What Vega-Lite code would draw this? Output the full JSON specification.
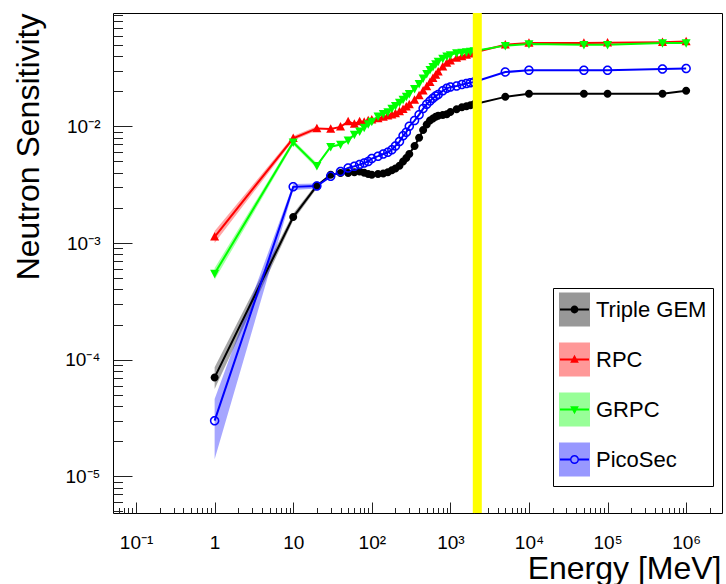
{
  "$schema": "https://vega.github.io/schema/vega-lite/v6.json",
  "autosize": {"type": "none"},
  "width": 609,
  "height": 500,
  "padding": {"left": 113, "top": 13, "right": 4, "bottom": 71},
  "background": "white",
  "config": {
    "view": {"stroke": "#000000", "strokeWidth": 1},
    "font": "Liberation Sans",
    "axis": {
      "labelFont": "Liberation Sans", "titleFont": "Liberation Sans", "titleFontWeight": "normal",
      "labelFontSize": 19, "titleFontSize": 32, "labelColor": "#000000",
      "titleColor": "#000000", "domain": false, "ticks": false, "grid": true,
      "gridColor": "#222222", "gridOpacity": 1, "gridWidth": 1,
      "labelOverlap": false, "labelFlush": false
    },
    "axisY": {
      "title": "Neutron Sensitivity",
      "values": [0.000005,0.000006,0.000007,0.000008,0.000009,0.00001,0.00002,0.00003,0.00004,0.00005,0.00006,0.00007,0.00008,0.00009,0.0001,0.0002,0.0003,0.0004,0.0005,0.0006,0.0007,0.0008,0.0009,0.001,0.002,0.003,0.004,0.005,0.006,0.007,0.008,0.009,0.01,0.02,0.03,0.04,0.05,0.06,0.07,0.08,0.09],
      "labelAlign": "right",
      "labelBaseline": "middle",
      "labelPadding": 13,
      "titleAngle": 270,
      "titleAlign": "right",
      "titleBaseline": "alphabetic",
      "titleX": -75,
      "titleY": 0
    }
  },
  "resolve": {"scale": {"shape": "independent", "color": "independent"}},
  "datasets": {
    "curves": [
      {"detector":"Triple GEM","energy":1,"sensitivity":7.05e-5},
      {"detector":"Triple GEM","energy":10,"sensitivity":1.67e-3},
      {"detector":"Triple GEM","energy":20,"sensitivity":3.1e-3},
      {"detector":"Triple GEM","energy":30,"sensitivity":3.85e-3},
      {"detector":"Triple GEM","energy":40,"sensitivity":3.98e-3},
      {"detector":"Triple GEM","energy":50,"sensitivity":3.98e-3},
      {"detector":"Triple GEM","energy":60,"sensitivity":4.05e-3},
      {"detector":"Triple GEM","energy":70,"sensitivity":4.11e-3},
      {"detector":"Triple GEM","energy":80,"sensitivity":4.0e-3},
      {"detector":"Triple GEM","energy":90,"sensitivity":3.9e-3},
      {"detector":"Triple GEM","energy":100,"sensitivity":3.85e-3},
      {"detector":"Triple GEM","energy":120,"sensitivity":3.9e-3},
      {"detector":"Triple GEM","energy":140,"sensitivity":3.95e-3},
      {"detector":"Triple GEM","energy":160,"sensitivity":4.05e-3},
      {"detector":"Triple GEM","energy":180,"sensitivity":4.2e-3},
      {"detector":"Triple GEM","energy":200,"sensitivity":4.35e-3},
      {"detector":"Triple GEM","energy":225,"sensitivity":4.6e-3},
      {"detector":"Triple GEM","energy":250,"sensitivity":5.0e-3},
      {"detector":"Triple GEM","energy":275,"sensitivity":5.36e-3},
      {"detector":"Triple GEM","energy":300,"sensitivity":5.8e-3},
      {"detector":"Triple GEM","energy":350,"sensitivity":6.8e-3},
      {"detector":"Triple GEM","energy":400,"sensitivity":8.0e-3},
      {"detector":"Triple GEM","energy":450,"sensitivity":9.3e-3},
      {"detector":"Triple GEM","energy":500,"sensitivity":1.04e-2},
      {"detector":"Triple GEM","energy":550,"sensitivity":1.12e-2},
      {"detector":"Triple GEM","energy":600,"sensitivity":1.17e-2},
      {"detector":"Triple GEM","energy":650,"sensitivity":1.21e-2},
      {"detector":"Triple GEM","energy":700,"sensitivity":1.23e-2},
      {"detector":"Triple GEM","energy":800,"sensitivity":1.25e-2},
      {"detector":"Triple GEM","energy":900,"sensitivity":1.27e-2},
      {"detector":"Triple GEM","energy":1000,"sensitivity":1.33e-2},
      {"detector":"Triple GEM","energy":1200,"sensitivity":1.40e-2},
      {"detector":"Triple GEM","energy":1400,"sensitivity":1.46e-2},
      {"detector":"Triple GEM","energy":1600,"sensitivity":1.49e-2},
      {"detector":"Triple GEM","energy":1800,"sensitivity":1.52e-2},
      {"detector":"Triple GEM","energy":2000,"sensitivity":1.55e-2},
      {"detector":"Triple GEM","energy":5000,"sensitivity":1.79e-2},
      {"detector":"Triple GEM","energy":10000,"sensitivity":1.90e-2},
      {"detector":"Triple GEM","energy":50000,"sensitivity":1.90e-2},
      {"detector":"Triple GEM","energy":100000,"sensitivity":1.90e-2},
      {"detector":"Triple GEM","energy":500000,"sensitivity":1.90e-2},
      {"detector":"Triple GEM","energy":1000000,"sensitivity":2.02e-2},
      {"detector":"RPC","energy":1,"sensitivity":1.13e-3},
      {"detector":"RPC","energy":10,"sensitivity":7.9e-3},
      {"detector":"RPC","energy":20,"sensitivity":9.6e-3},
      {"detector":"RPC","energy":30,"sensitivity":9.5e-3},
      {"detector":"RPC","energy":40,"sensitivity":9.9e-3},
      {"detector":"RPC","energy":50,"sensitivity":1.10e-2},
      {"detector":"RPC","energy":60,"sensitivity":1.05e-2},
      {"detector":"RPC","energy":70,"sensitivity":1.10e-2},
      {"detector":"RPC","energy":80,"sensitivity":1.09e-2},
      {"detector":"RPC","energy":90,"sensitivity":1.12e-2},
      {"detector":"RPC","energy":100,"sensitivity":1.14e-2},
      {"detector":"RPC","energy":120,"sensitivity":1.17e-2},
      {"detector":"RPC","energy":140,"sensitivity":1.20e-2},
      {"detector":"RPC","energy":160,"sensitivity":1.23e-2},
      {"detector":"RPC","energy":180,"sensitivity":1.26e-2},
      {"detector":"RPC","energy":200,"sensitivity":1.29e-2},
      {"detector":"RPC","energy":225,"sensitivity":1.34e-2},
      {"detector":"RPC","energy":250,"sensitivity":1.40e-2},
      {"detector":"RPC","energy":275,"sensitivity":1.47e-2},
      {"detector":"RPC","energy":300,"sensitivity":1.54e-2},
      {"detector":"RPC","energy":350,"sensitivity":1.68e-2},
      {"detector":"RPC","energy":400,"sensitivity":1.84e-2},
      {"detector":"RPC","energy":450,"sensitivity":2.02e-2},
      {"detector":"RPC","energy":500,"sensitivity":2.20e-2},
      {"detector":"RPC","energy":550,"sensitivity":2.39e-2},
      {"detector":"RPC","energy":600,"sensitivity":2.58e-2},
      {"detector":"RPC","energy":650,"sensitivity":2.75e-2},
      {"detector":"RPC","energy":700,"sensitivity":2.94e-2},
      {"detector":"RPC","energy":800,"sensitivity":3.25e-2},
      {"detector":"RPC","energy":900,"sensitivity":3.50e-2},
      {"detector":"RPC","energy":1000,"sensitivity":3.65e-2},
      {"detector":"RPC","energy":1200,"sensitivity":3.85e-2},
      {"detector":"RPC","energy":1400,"sensitivity":3.98e-2},
      {"detector":"RPC","energy":1600,"sensitivity":4.10e-2},
      {"detector":"RPC","energy":1800,"sensitivity":4.20e-2},
      {"detector":"RPC","energy":2000,"sensitivity":4.30e-2},
      {"detector":"RPC","energy":5000,"sensitivity":5.01e-2},
      {"detector":"RPC","energy":10000,"sensitivity":5.19e-2},
      {"detector":"RPC","energy":50000,"sensitivity":5.19e-2},
      {"detector":"RPC","energy":100000,"sensitivity":5.20e-2},
      {"detector":"RPC","energy":500000,"sensitivity":5.27e-2},
      {"detector":"RPC","energy":1000000,"sensitivity":5.34e-2},
      {"detector":"GRPC","energy":1,"sensitivity":5.47e-4},
      {"detector":"GRPC","energy":10,"sensitivity":7.3e-3},
      {"detector":"GRPC","energy":20,"sensitivity":4.6e-3},
      {"detector":"GRPC","energy":30,"sensitivity":6.7e-3},
      {"detector":"GRPC","energy":40,"sensitivity":7.0e-3},
      {"detector":"GRPC","energy":50,"sensitivity":7.6e-3},
      {"detector":"GRPC","energy":60,"sensitivity":8.5e-3},
      {"detector":"GRPC","energy":70,"sensitivity":9.1e-3},
      {"detector":"GRPC","energy":80,"sensitivity":9.8e-3},
      {"detector":"GRPC","energy":90,"sensitivity":1.05e-2},
      {"detector":"GRPC","energy":100,"sensitivity":1.10e-2},
      {"detector":"GRPC","energy":120,"sensitivity":1.22e-2},
      {"detector":"GRPC","energy":140,"sensitivity":1.28e-2},
      {"detector":"GRPC","energy":160,"sensitivity":1.33e-2},
      {"detector":"GRPC","energy":180,"sensitivity":1.42e-2},
      {"detector":"GRPC","energy":200,"sensitivity":1.50e-2},
      {"detector":"GRPC","energy":225,"sensitivity":1.60e-2},
      {"detector":"GRPC","energy":250,"sensitivity":1.70e-2},
      {"detector":"GRPC","energy":275,"sensitivity":1.80e-2},
      {"detector":"GRPC","energy":300,"sensitivity":1.90e-2},
      {"detector":"GRPC","energy":350,"sensitivity":2.10e-2},
      {"detector":"GRPC","energy":400,"sensitivity":2.32e-2},
      {"detector":"GRPC","energy":450,"sensitivity":2.58e-2},
      {"detector":"GRPC","energy":500,"sensitivity":2.82e-2},
      {"detector":"GRPC","energy":550,"sensitivity":3.06e-2},
      {"detector":"GRPC","energy":600,"sensitivity":3.24e-2},
      {"detector":"GRPC","energy":650,"sensitivity":3.42e-2},
      {"detector":"GRPC","energy":700,"sensitivity":3.60e-2},
      {"detector":"GRPC","energy":800,"sensitivity":3.82e-2},
      {"detector":"GRPC","energy":900,"sensitivity":4.00e-2},
      {"detector":"GRPC","energy":1000,"sensitivity":4.10e-2},
      {"detector":"GRPC","energy":1200,"sensitivity":4.25e-2},
      {"detector":"GRPC","energy":1400,"sensitivity":4.30e-2},
      {"detector":"GRPC","energy":1600,"sensitivity":4.34e-2},
      {"detector":"GRPC","energy":1800,"sensitivity":4.38e-2},
      {"detector":"GRPC","energy":2000,"sensitivity":4.42e-2},
      {"detector":"GRPC","energy":5000,"sensitivity":4.92e-2},
      {"detector":"GRPC","energy":10000,"sensitivity":5.08e-2},
      {"detector":"GRPC","energy":50000,"sensitivity":5.00e-2},
      {"detector":"GRPC","energy":100000,"sensitivity":5.00e-2},
      {"detector":"GRPC","energy":500000,"sensitivity":5.19e-2},
      {"detector":"GRPC","energy":1000000,"sensitivity":5.19e-2},
      {"detector":"PicoSec","energy":1,"sensitivity":3.0e-5},
      {"detector":"PicoSec","energy":10,"sensitivity":3.03e-3},
      {"detector":"PicoSec","energy":20,"sensitivity":3.08e-3},
      {"detector":"PicoSec","energy":30,"sensitivity":3.73e-3},
      {"detector":"PicoSec","energy":40,"sensitivity":4.11e-3},
      {"detector":"PicoSec","energy":50,"sensitivity":4.4e-3},
      {"detector":"PicoSec","energy":60,"sensitivity":4.55e-3},
      {"detector":"PicoSec","energy":70,"sensitivity":4.7e-3},
      {"detector":"PicoSec","energy":80,"sensitivity":4.85e-3},
      {"detector":"PicoSec","energy":90,"sensitivity":5.0e-3},
      {"detector":"PicoSec","energy":100,"sensitivity":5.3e-3},
      {"detector":"PicoSec","energy":120,"sensitivity":5.55e-3},
      {"detector":"PicoSec","energy":140,"sensitivity":5.8e-3},
      {"detector":"PicoSec","energy":160,"sensitivity":6.0e-3},
      {"detector":"PicoSec","energy":180,"sensitivity":6.3e-3},
      {"detector":"PicoSec","energy":200,"sensitivity":6.8e-3},
      {"detector":"PicoSec","energy":225,"sensitivity":7.4e-3},
      {"detector":"PicoSec","energy":250,"sensitivity":8.3e-3},
      {"detector":"PicoSec","energy":275,"sensitivity":8.9e-3},
      {"detector":"PicoSec","energy":300,"sensitivity":1.0e-2},
      {"detector":"PicoSec","energy":350,"sensitivity":1.12e-2},
      {"detector":"PicoSec","energy":400,"sensitivity":1.26e-2},
      {"detector":"PicoSec","energy":450,"sensitivity":1.42e-2},
      {"detector":"PicoSec","energy":500,"sensitivity":1.55e-2},
      {"detector":"PicoSec","energy":550,"sensitivity":1.65e-2},
      {"detector":"PicoSec","energy":600,"sensitivity":1.74e-2},
      {"detector":"PicoSec","energy":650,"sensitivity":1.82e-2},
      {"detector":"PicoSec","energy":700,"sensitivity":1.88e-2},
      {"detector":"PicoSec","energy":800,"sensitivity":2.02e-2},
      {"detector":"PicoSec","energy":900,"sensitivity":2.12e-2},
      {"detector":"PicoSec","energy":1000,"sensitivity":2.17e-2},
      {"detector":"PicoSec","energy":1200,"sensitivity":2.22e-2},
      {"detector":"PicoSec","energy":1400,"sensitivity":2.28e-2},
      {"detector":"PicoSec","energy":1600,"sensitivity":2.33e-2},
      {"detector":"PicoSec","energy":1800,"sensitivity":2.37e-2},
      {"detector":"PicoSec","energy":2000,"sensitivity":2.40e-2},
      {"detector":"PicoSec","energy":5000,"sensitivity":2.92e-2},
      {"detector":"PicoSec","energy":10000,"sensitivity":3.02e-2},
      {"detector":"PicoSec","energy":50000,"sensitivity":3.02e-2},
      {"detector":"PicoSec","energy":100000,"sensitivity":3.02e-2},
      {"detector":"PicoSec","energy":500000,"sensitivity":3.10e-2},
      {"detector":"PicoSec","energy":1000000,"sensitivity":3.14e-2}
    ],
    "bands": [
      {"detector":"Triple GEM","energy":1,"lo":5.6e-5,"hi":8.6e-5},
      {"detector":"Triple GEM","energy":10,"lo":1.56e-3,"hi":1.79e-3},
      {"detector":"Triple GEM","energy":20,"lo":2.95e-3,"hi":3.25e-3},
      {"detector":"RPC","energy":1,"lo":1.0e-3,"hi":1.27e-3},
      {"detector":"RPC","energy":10,"lo":7.55e-3,"hi":8.25e-3},
      {"detector":"RPC","energy":20,"lo":9.2e-3,"hi":1.0e-2},
      {"detector":"GRPC","energy":1,"lo":4.85e-4,"hi":6.1e-4},
      {"detector":"GRPC","energy":10,"lo":6.95e-3,"hi":7.65e-3},
      {"detector":"GRPC","energy":20,"lo":4.35e-3,"hi":4.85e-3},
      {"detector":"PicoSec","energy":1,"lo":1.4e-5,"hi":4.6e-5},
      {"detector":"PicoSec","energy":10,"lo":2.85e-3,"hi":3.2e-3},
      {"detector":"PicoSec","energy":20,"lo":2.93e-3,"hi":3.23e-3}
    ],
    "marker": [
      {"energy": 2200}
    ]
  },
  "encoding": {
    "x": {
      "field": "energy", "type": "quantitative",
      "scale": {"type": "log", "domain": [0.0509, 2860000], "nice": false},
      "axis": {
        "title": "Energy [MeV]",
        "values": [0.06,0.07,0.08,0.09,0.1,0.2,0.3,0.4,0.5,0.6,0.7,0.8,0.9,1,2,3,4,5,6,7,8,9,10,20,30,40,50,60,70,80,90,100,200,300,400,500,600,700,800,900,1000,2000,3000,4000,5000,6000,7000,8000,9000,10000,20000,30000,40000,50000,60000,70000,80000,90000,100000,200000,300000,400000,500000,600000,700000,800000,900000,1000000,2000000],
        "labelExpr": "abs(log(datum.value)/LN10 - round(log(datum.value)/LN10)) > 0.001 ? '' : (round(log(datum.value)/LN10) == 0 ? '1' : (round(log(datum.value)/LN10) == 1 ? '10' : '10' + replace(replace(replace(replace(replace(replace(replace(''+round(log(datum.value)/LN10), '-', '⁻'), '1', '¹'), '2', '²'), '3', '³'), '4', '⁴'), '5', '⁵'), '6', '⁶')))",
        "gridDash": {"condition": {"test": "abs(log(datum.value)/LN10 - round(log(datum.value)/LN10)) < 0.001", "value": [0, 489, 11, 3000]}, "value": [0, 494.5, 5.5, 3000]},
        "labelBaseline": "top",
        "labelPadding": 20,
        "titleAlign": "right",
        "titleBaseline": "alphabetic",
        "titleX": 608,
        "titleY": 65
      }
    }
  },
  "layer": [
    {
      "data": {"name": "bands"},
      "mark": {"type": "area", "opacity": 0.35},
      "encoding": {
        "y": {
          "field": "lo", "type": "quantitative",
          "scale": {"type": "log", "domain": [0.00000485, 0.0937], "nice": false},
          "axis": {
            "title": "Neutron Sensitivity",
            "labelExpr": "abs(log(datum.value)/LN10 - round(log(datum.value)/LN10)) > 0.001 ? '' : '10' + replace(replace(replace(replace(replace(''+round(log(datum.value)/LN10), '-', '⁻'), '2', '²'), '3', '³'), '4', '⁴'), '5', '⁵')",
            "gridDash": {"condition": {"test": "abs(log(datum.value)/LN10 - round(log(datum.value)/LN10)) < 0.001", "value": [19, 3000]}, "value": [9.5, 3000]}
          }
        },
        "y2": {"field": "hi"},
        "fill": {
          "field": "detector", "type": "nominal",
          "scale": {"domain": ["Triple GEM","RPC","GRPC","PicoSec"], "range": ["#000000","#ff0000","#00ff00","#0000ff"]},
          "legend": {
            "orient": "none", "legendX": 440, "legendY": 275, "title": null,
            "padding": 6, "rowPadding": 9, "labelOffset": 6,
            "symbolType": "M-1,-1.1H1V1.1H-1Z", "symbolSize": 841,
            "symbolStrokeWidth": 2, "symbolStrokeColor": "transparent", "symbolOpacity": 0.4,
            "labelFontSize": 22, "labelFont": "Liberation Sans", "labelColor": "#000000", "labelLimit": 300,
            "strokeColor": "#000000", "fillColor": "#ffffff"
          }
        }
      }
    },
    {
      "data": {"name": "curves"},
      "mark": {"type": "line", "strokeWidth": 2},
      "encoding": {
        "y": {
          "field": "sensitivity", "type": "quantitative",
          "scale": {"type": "log", "domain": [0.00000485, 0.0937], "nice": false},
          "axis": {
            "title": "Neutron Sensitivity",
            "labelExpr": "abs(log(datum.value)/LN10 - round(log(datum.value)/LN10)) > 0.001 ? '' : '10' + replace(replace(replace(replace(replace(''+round(log(datum.value)/LN10), '-', '⁻'), '2', '²'), '3', '³'), '4', '⁴'), '5', '⁵')",
            "gridDash": {"condition": {"test": "abs(log(datum.value)/LN10 - round(log(datum.value)/LN10)) < 0.001", "value": [19, 3000]}, "value": [9.5, 3000]}
          }
        },
        "stroke": {
          "field": "detector", "type": "nominal",
          "scale": {"domain": ["Triple GEM","RPC","GRPC","PicoSec"], "range": ["#000000","#ff0000","#00ff00","#0000ff"]},
          "legend": null
        }
      }
    },
    {
      "data": {"name": "curves"},
      "mark": {"type": "point", "filled": true, "opacity": 1, "size": 100},
      "encoding": {
        "y": {
          "field": "sensitivity", "type": "quantitative",
          "scale": {"type": "log", "domain": [0.00000485, 0.0937], "nice": false},
          "axis": {
            "title": "Neutron Sensitivity",
            "labelExpr": "abs(log(datum.value)/LN10 - round(log(datum.value)/LN10)) > 0.001 ? '' : '10' + replace(replace(replace(replace(replace(''+round(log(datum.value)/LN10), '-', '⁻'), '2', '²'), '3', '³'), '4', '⁴'), '5', '⁵')",
            "gridDash": {"condition": {"test": "abs(log(datum.value)/LN10 - round(log(datum.value)/LN10)) < 0.001", "value": [19, 3000]}, "value": [9.5, 3000]}
          }
        },
        "shape": {
          "field": "detector", "type": "nominal",
          "scale": {"domain": ["Triple GEM","RPC","GRPC","PicoSec"], "range": [
            "M-0.8,0A0.8,0.8 0 1,0 0.8,0A0.8,0.8 0 1,0 -0.8,0Z",
            "M0,-0.95L0.9,0.75L-0.9,0.75Z",
            "M0,0.95L0.9,-0.75L-0.9,-0.75Z",
            "M-0.95,0A0.95,0.95 0 1,0 0.95,0A0.95,0.95 0 1,0 -0.95,0ZM-0.65,0A0.65,0.65 0 1,1 0.65,0A0.65,0.65 0 1,1 -0.65,0Z"
          ]},
          "legend": null
        },
        "color": {
          "field": "detector", "type": "nominal",
          "scale": {"domain": ["Triple GEM","RPC","GRPC","PicoSec"], "range": ["#000000","#ff0000","#00ff00","#0000ff"]},
          "legend": null
        }
      }
    },
    {
      "data": {"name": "curves"},
      "mark": {"type": "point", "filled": true, "opacity": 0, "size": 10},
      "encoding": {
        "y": {
          "field": "sensitivity", "type": "quantitative",
          "scale": {"type": "log", "domain": [0.00000485, 0.0937], "nice": false},
          "axis": {
            "title": "Neutron Sensitivity",
            "labelExpr": "abs(log(datum.value)/LN10 - round(log(datum.value)/LN10)) > 0.001 ? '' : '10' + replace(replace(replace(replace(replace(''+round(log(datum.value)/LN10), '-', '⁻'), '2', '²'), '3', '³'), '4', '⁴'), '5', '⁵')",
            "gridDash": {"condition": {"test": "abs(log(datum.value)/LN10 - round(log(datum.value)/LN10)) < 0.001", "value": [19, 3000]}, "value": [9.5, 3000]}
          }
        },
        "shape": {
          "field": "detector", "type": "nominal",
          "scale": {"domain": ["Triple GEM","RPC","GRPC","PicoSec"], "range": [
            "M-1,-1.1ZM1,1.1ZM-1,-0.07H1V0.07H-1ZM-0.27,0A0.27,0.27 0 1,1 0.27,0A0.27,0.27 0 1,1 -0.27,0Z",
            "M-1,-1.1ZM1,1.1ZM-1,-0.07H1V0.07H-1ZM0,-0.32L0.3,0.22L-0.3,0.22Z",
            "M-1,-1.1ZM1,1.1ZM-1,-0.07H1V0.07H-1ZM0,0.32L-0.3,-0.22L0.3,-0.22Z",
            "M-1,-1.1ZM1,1.1ZM-1,-0.07H-0.3V0.07H-1ZM0.3,-0.07H1V0.07H0.3ZM-0.31,0A0.31,0.31 0 1,1 0.31,0A0.31,0.31 0 1,1 -0.31,0ZM-0.21,0A0.21,0.21 0 1,0 0.21,0A0.21,0.21 0 1,0 -0.21,0Z"
          ]},
          "legend": {
            "orient": "none", "legendX": 440, "legendY": 275, "title": null,
            "padding": 6, "rowPadding": 9, "labelOffset": 6,
            "symbolSize": 841, "symbolStrokeWidth": 2, "symbolStrokeColor": "transparent", "symbolOpacity": 1,
            "labelFontSize": 22, "labelFont": "Liberation Sans", "labelOpacity": 0, "labelLimit": 300
          }
        },
        "color": {
          "field": "detector", "type": "nominal",
          "scale": {"domain": ["Triple GEM","RPC","GRPC","PicoSec"], "range": ["#000000","#ff0000","#00ff00","#0000ff"]},
          "legend": {
            "orient": "none", "legendX": 440, "legendY": 275, "title": null,
            "padding": 6, "rowPadding": 9, "labelOffset": 6,
            "symbolSize": 841, "symbolStrokeWidth": 2, "symbolStrokeColor": "transparent", "symbolOpacity": 1,
            "labelFontSize": 22, "labelFont": "Liberation Sans", "labelOpacity": 0, "labelLimit": 300
          }
        }
      }
    },
    {
      "data": {"name": "marker"},
      "mark": {"type": "rule", "color": "#ffff00", "strokeWidth": 9},
      "encoding": {}
    }
  ]
}
